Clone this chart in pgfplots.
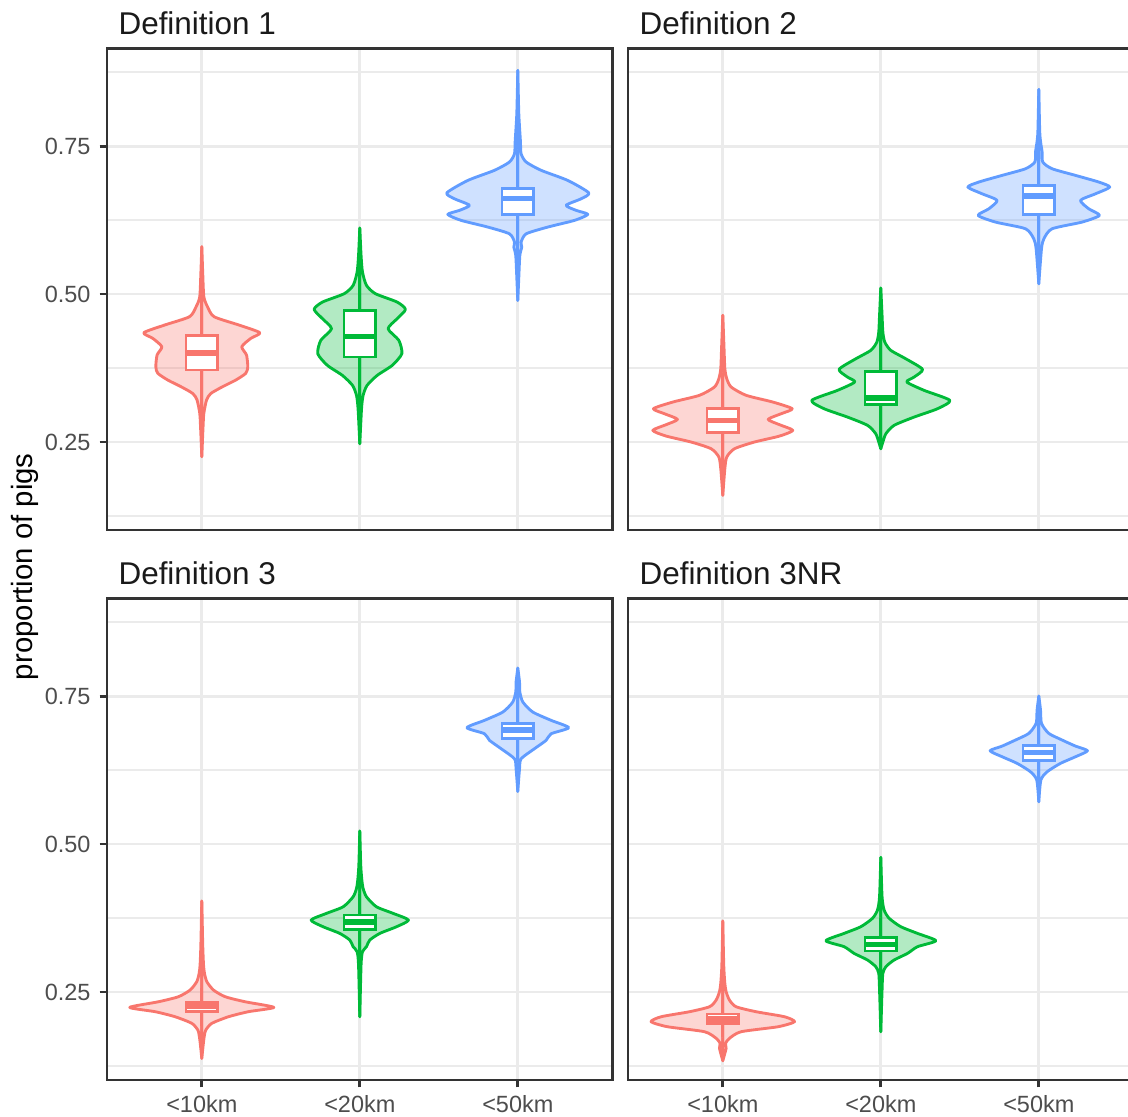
\documentclass[border=0pt]{standalone}
\usepackage{pgfplots}
\pgfplotsset{compat=1.18}
\usepackage{pgfplotstable}
\usepgfplotslibrary{statistics}
\usepackage{fontspec}
\setmainfont{Liberation Sans}

\definecolor{cR}{HTML}{F8766D}
\definecolor{cG}{HTML}{00BA38}
\definecolor{cB}{HTML}{619CFF}
\definecolor{gridc}{HTML}{EBEBEB}
\definecolor{framec}{HTML}{333333}
\definecolor{tickc}{HTML}{4D4D4D}
\definecolor{stripc}{HTML}{1A1A1A}

% ---- violin profiles: y, half-width (x units) ----
\pgfplotstableread{
y w
0.2252 0
0.2759 0.008
0.2985 0.013
0.321 0.030
0.332 0.057
0.3434 0.131
0.3547 0.215
0.366 0.278
0.377 0.291
0.397 0.283
0.411 0.253
0.4251 0.31
0.4347 0.367
0.4476 0.236
0.4617 0.078
0.4786 0.036
0.4955 0.013
0.535 0.006
0.580 0
}\vAR
\pgfplotstableread{
y w
0.2472 0
0.3063 0.011
0.3289 0.021
0.3457 0.046
0.3626 0.110
0.3795 0.205
0.3992 0.266
0.4218 0.247
0.4414 0.179
0.4583 0.236
0.4741 0.289
0.4865 0.236
0.5006 0.099
0.5147 0.042
0.5372 0.017
0.5653 0.008
0.6115 0
}\vAG
\pgfplotstableread{
y w
0.4893 0
0.5259 0.006
0.5653 0.013
0.5794 0.025
0.5878 0.021
0.6018 0.053
0.6132 0.19
0.6245 0.359
0.6346 0.443
0.6414 0.369
0.650 0.306
0.661 0.401
0.671 0.449
0.692 0.316
0.709 0.148
0.723 0.053
0.737 0.021
0.7568 0.017
0.7736 0.013
0.8074 0.006
0.8778 0
}\vAB
\pgfplotstableread{
y w
0.16 0
0.2049 0.013
0.2247 0.025
0.2387 0.074
0.25 0.2
0.2601 0.359
0.2697 0.443
0.2793 0.359
0.2883 0.287
0.2978 0.369
0.3063 0.439
0.3176 0.316
0.3289 0.148
0.3429 0.053
0.357 0.025
0.3739 0.013
0.4076 0.008
0.464 0
}\vBR
\pgfplotstableread{
y w
0.2387 0
0.25 0.013
0.264 0.032
0.2782 0.084
0.2922 0.211
0.3063 0.359
0.3204 0.437
0.3373 0.274
0.3514 0.165
0.3598 0.211
0.3728 0.264
0.3907 0.158
0.4049 0.063
0.4189 0.025
0.4358 0.013
0.464 0.008
0.5101 0
}\vBG
\pgfplotstableread{
y w
0.5174 0
0.5765 0.017
0.5934 0.032
0.6103 0.084
0.6216 0.274
0.6329 0.384
0.6441 0.316
0.6583 0.264
0.6694 0.359
0.6807 0.449
0.6892 0.38
0.7005 0.232
0.7117 0.084
0.723 0.025
0.7399 0.021
0.754 0.013
0.7736 0.006
0.8457 0
}\vBB
\pgfplotstableread{
y w
0.138 0
0.1661 0.011
0.1774 0.017
0.1858 0.025
0.1971 0.063
0.2083 0.169
0.2168 0.295
0.2241 0.456
0.2336 0.274
0.2421 0.148
0.2534 0.074
0.2674 0.032
0.2815 0.017
0.2956 0.011
0.3294 0.006
0.4037 0
}\vCR
\pgfplotstableread{
y w
0.2083 0
0.2956 0.008
0.3181 0.017
0.3266 0.042
0.3378 0.063
0.3491 0.127
0.3603 0.232
0.3716 0.308
0.3829 0.211
0.3941 0.105
0.411 0.042
0.4251 0.021
0.4392 0.013
0.4645 0.006
0.522 0
}\vCG
\pgfplotstableread{
y w
0.589 0
0.6272 0.011
0.6441 0.021
0.661 0.105
0.6752 0.179
0.6864 0.211
0.6966 0.322
0.709 0.211
0.723 0.095
0.7399 0.032
0.7568 0.013
0.7736 0.011
0.7973 0
}\vCB
\pgfplotstableread{
y w
0.134 0
0.1549 0.021
0.1633 0.017
0.1718 0.042
0.183 0.116
0.1914 0.35
0.1999 0.454
0.2083 0.39
0.2168 0.21
0.2252 0.084
0.2365 0.042
0.2506 0.021
0.2647 0.013
0.2956 0.006
0.3699 0
}\vDR
\pgfplotstableread{
y w
0.183 0
0.2534 0.008
0.2815 0.013
0.2928 0.032
0.3041 0.084
0.3153 0.169
0.3266 0.232
0.3367 0.348
0.3491 0.232
0.3603 0.127
0.3745 0.053
0.3885 0.021
0.411 0.008
0.4775 0
}\vDG
\pgfplotstableread{
y w
0.5715 0
0.6081 0.013
0.6222 0.053
0.6363 0.137
0.6475 0.232
0.6576 0.308
0.6655 0.232
0.6757 0.148
0.687 0.063
0.7039 0.017
0.7264 0.011
0.75 0
}\vDB

\newcommand{\violin}[3]{%
  \addplot[draw=#2, line width=1.07pt, line join=round, fill=#2, fill opacity=0.3, smooth, tension=0.4]
    table[x expr={#1+\thisrow{w}}, y=y] {#3} -- cycle;
  \addplot[draw=#2, line width=1.07pt, line join=round, fill=#2, fill opacity=0.3, smooth, tension=0.4]
    table[x expr={#1-\thisrow{w}}, y=y] {#3} -- cycle;
}
\newcommand{\bplot}[7]{%
  \addplot[draw=#2, fill=white, line width=1.07pt, solid,
    boxplot prepared={draw direction=y, draw position=#1, lower whisker=#3, lower quartile=#4,
      median=#5, upper quartile=#6, upper whisker=#7, box extend=0.2, whisker extend=0}]
    coordinates {};
}

\pgfplotsset{
  panel/.style={
    scale only axis, width=189.6pt, height=180.6pt,
    xmin=0.4, xmax=3.6, ymin=0.1014, ymax=0.915,
    xtick={1,2,3}, ytick={0.25,0.5,0.75},
    minor ytick={0.125,0.375,0.625,0.875},
    xmajorgrids, ymajorgrids, yminorgrids,
    major grid style={draw=gridc, line width=1.07pt},
    minor grid style={draw=gridc, line width=0.53pt},
    axis line style={draw=framec, line width=1.07pt},
    tick align=outside, major tick length=2.75pt, minor tick length=0pt,
    tick pos=left,
    tick style={draw=framec, line width=1.07pt},
    xticklabels={\textless10km,\textless20km,\textless50km},
    yticklabels={0.25,0.50,0.75},
    xticklabel style={font=\fontsize{8.8}{10}\selectfont, text=tickc, inner sep=0pt, anchor=north, yshift=-2.85pt},
    yticklabel style={font=\fontsize{8.8}{10}\selectfont, text=tickc, inner sep=0pt, anchor=east, xshift=-3.25pt},
    boxplot/every median/.style={line width=2.13pt},
  },
  topp/.style={xmajorticks=false, xticklabels={,,}},
  rightp/.style={ymajorticks=false, yticklabels={,,}},
}

\begin{document}
\begin{tikzpicture}
% Definition 1
\begin{axis}[panel, topp, name=p1, at={(40.125pt,219.75pt)}, anchor=south west]
\violin{1}{cR}{\vAR}
\violin{2}{cG}{\vAG}
\violin{3}{cB}{\vAB}
\bplot{1}{cR}{0.283}{0.3716}{0.4009}{0.4307}{0.519}
\bplot{2}{cG}{0.2754}{0.3936}{0.4285}{0.4724}{0.5906}
\bplot{3}{cB}{0.5682}{0.634}{0.6612}{0.6779}{0.7438}
\end{axis}
% Definition 2
\begin{axis}[panel, topp, rightp, name=p2, at={(235.5pt,219.75pt)}, anchor=south west]
\violin{1}{cR}{\vBR}
\violin{2}{cG}{\vBG}
\violin{3}{cB}{\vBB}
\bplot{1}{cR}{0.2048}{0.2657}{0.2866}{0.3063}{0.3672}
\bplot{2}{cG}{0.2387}{0.313}{0.3243}{0.3694}{0.454}
\bplot{3}{cB}{0.5611}{0.6346}{0.6655}{0.6836}{0.7571}
\end{axis}
% Definition 3
\begin{axis}[panel, name=p3, at={(40.125pt,13.5pt)}, anchor=south west]
\violin{1}{cR}{\vCR}
\violin{2}{cG}{\vCG}
\violin{3}{cB}{\vCB}
\bplot{1}{cR}{0.1931}{0.2168}{0.2264}{0.2326}{0.2563}
\bplot{2}{cG}{0.3196}{0.3559}{0.3688}{0.3801}{0.4164}
\bplot{3}{cB}{0.6382}{0.6779}{0.6931}{0.7044}{0.7442}
\end{axis}
% Definition 3NR
\begin{axis}[panel, rightp, name=p4, at={(235.5pt,13.5pt)}, anchor=south west]
\violin{1}{cR}{\vDR}
\violin{2}{cG}{\vDG}
\violin{3}{cB}{\vDB}
\bplot{1}{cR}{0.1736}{0.1971}{0.2049}{0.2128}{0.2364}
\bplot{2}{cG}{0.2856}{0.3193}{0.3306}{0.3418}{0.3756}
\bplot{3}{cB}{0.604}{0.6419}{0.6548}{0.6672}{0.7052}
\end{axis}

\foreach \p/\t in {p1/Definition 1, p2/Definition 2, p3/Definition 3, p4/Definition 3NR}{
  \node[anchor=base west, font=\fontsize{11.8}{14}\selectfont, text=stripc, inner sep=0pt]
    at ([xshift=4.125pt, yshift=5.25pt]\p.north west) {\t};
}
\node[rotate=90, font=\fontsize{11}{13}\selectfont, inner sep=0pt] at (9.4pt,206pt) {proportion of pigs};

\pgfresetboundingbox
\useasboundingbox (0,0) rectangle (423pt,418.5pt);
\end{tikzpicture}
\end{document}
